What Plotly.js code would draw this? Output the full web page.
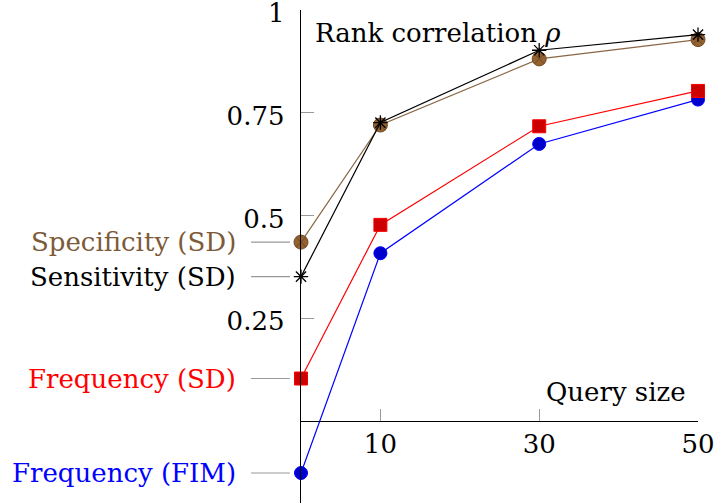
<!DOCTYPE html>
<html>
<head>
<meta charset="utf-8">
<script src="https://cdn.plot.ly/plotly-3.0.1.min.js"></script>
<style>html,body{margin:0;padding:0;background:#fff;}#chart{width:715px;height:503px;}</style>
</head>
<body>
<div id="chart"></div>
<script>
// Data
const querySizes = [0, 10, 30, 50];
const xTickVals = [10, 30, 50];
const xTickText = ['10', '30', '50'];
const yTickVals = [0.25, 0.5, 0.75, 1];
const yTickText = ['0.25', '0.5', '0.75', '1'];

const seriesNames = ['Frequency (FIM)', 'Frequency (SD)', 'Specificity (SD)', 'Sensitivity (SD)'];
const freqFIM = [-0.127, 0.408, 0.674, 0.782];
const freqSD = [0.103, 0.477, 0.717, 0.803];
const specSD = [0.435, 0.720, 0.881, 0.928];
const sensSD = [0.351, 0.726, 0.902, 0.940];

const titleText = 'Rank correlation <i>ρ</i>';
const xTitleText = 'Query size';

const FONT = "DejaVu Serif";
const FS = 26;

const styles = [
  {line: '#0000ff', fill: '#0000cc', symbol: 'circle', size: 13, text: '#0000ff'},
  {line: '#ff0000', fill: '#cc0000', symbol: 'square', size: 13, text: '#ff0000'},
  {line: '#8a6744', fill: '#94612f', symbol: 'circle-x', size: 14, text: '#7d5a38'},
  {line: '#000000', fill: '#000000', symbol: 'asterisk-open', size: 12, text: '#000000'}
];
const allSeries = [freqFIM, freqSD, specSD, sensSD];

const traces = allSeries.map((ys, i) => {
  const s = styles[i];
  return {
    x: querySizes, y: ys, type: 'scatter', mode: 'lines+markers',
    name: seriesNames[i], cliponaxis: false,
    line: {color: s.line, width: 1.2},
    marker: {symbol: s.symbol, size: s.size, color: s.fill,
             line: {color: i === 2 ? '#6e4a28' : (i === 3 ? '#000' : s.line), width: i === 3 ? 1.3 : 1}}
  };
});

const annotations = [];
const shapes = [];
allSeries.forEach((ys, i) => {
  annotations.push({
    xref: 'paper', yref: 'y', x: -0.158, y: ys[0], xanchor: 'right', yanchor: 'middle',
    text: seriesNames[i], showarrow: false, font: {family: FONT, size: FS, color: styles[i].text}
  });
  shapes.push({
    type: 'line', xref: 'paper', yref: 'y', x0: -0.126, x1: -0.028, y0: ys[0], y1: ys[0],
    line: {color: '#999999', width: 1.2}
  });
});
annotations.push({
  xref: 'paper', yref: 'y', x: 0.03, y: 0.945, xanchor: 'left', yanchor: 'middle',
  text: titleText, showarrow: false, font: {family: FONT, size: FS, color: '#000'}
});
annotations.push({
  xref: 'paper', yref: 'y', x: 0.975, y: 0.069, xanchor: 'right', yanchor: 'middle',
  text: xTitleText, showarrow: false, font: {family: FONT, size: FS, color: '#000'}
});

const layout = {
  width: 715, height: 503,
  margin: {l: 301, r: 17, t: 10, b: 0, pad: 0},
  paper_bgcolor: '#fff', plot_bgcolor: '#fff',
  showlegend: false,
  font: {family: FONT, size: FS, color: '#000'},
  xaxis: {
    range: [0, 50], anchor: 'free', position: 0.2 / 1.2,
    showline: true, linecolor: '#000', linewidth: 1.3,
    showgrid: false, zeroline: false,
    tickmode: 'array', tickvals: xTickVals, ticktext: xTickText,
    ticks: 'inside', ticklen: 12, tickcolor: '#999', tickwidth: 1.2,
    ticklabeloverflow: 'allow',
    tickfont: {family: FONT, size: FS, color: '#000'}
  },
  yaxis: {
    range: [-0.2, 1],
    showline: true, linecolor: '#000', linewidth: 1.3,
    showgrid: false, zeroline: false,
    tickmode: 'array', tickvals: yTickVals, ticktext: yTickText,
    ticks: 'inside', ticklen: 13, tickcolor: '#999', tickwidth: 1.2,
    ticklabelstandoff: 10, ticklabeloverflow: 'allow', ticklabelshift: 3,
    tickfont: {family: FONT, size: FS, color: '#000'}
  },
  annotations: annotations,
  shapes: shapes
};

Plotly.newPlot('chart', traces, layout, {displayModeBar: false, staticPlot: true});
</script>
</body>
</html>
